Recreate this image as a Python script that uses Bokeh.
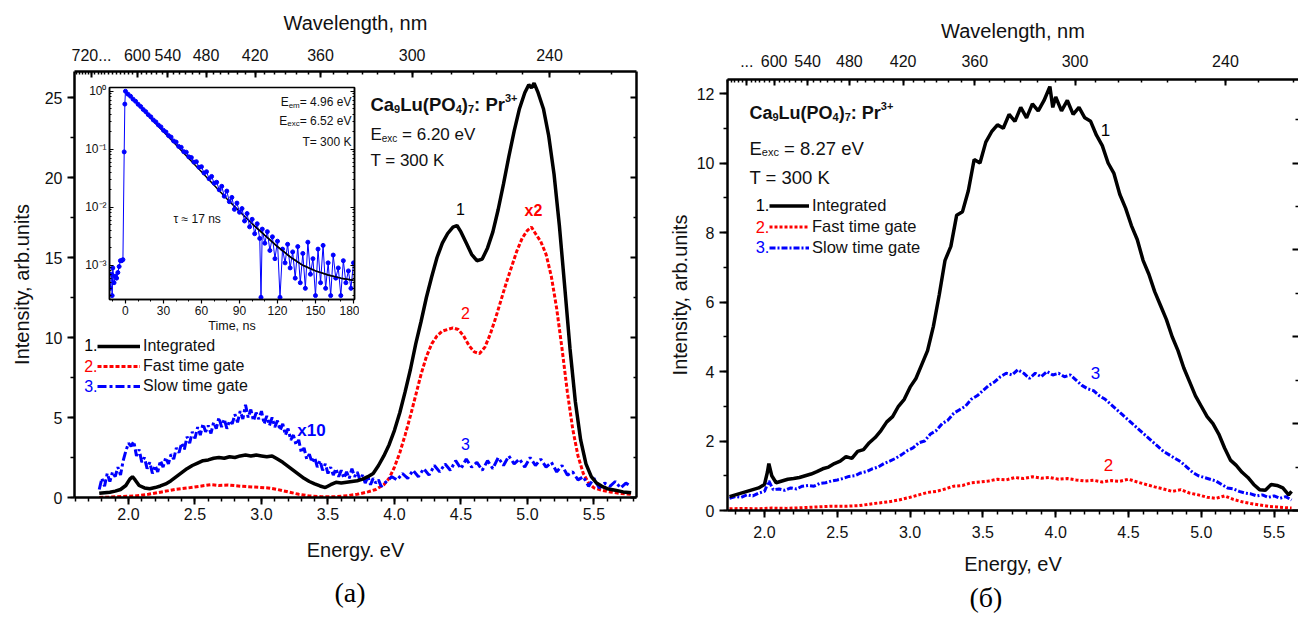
from bokeh.plotting import figure
from bokeh.models import (Range1d, LinearAxis, LogAxis, FixedTicker, SingleIntervalTicker,
                          NumeralTickFormatter, Legend, LegendItem, Label, Title, GridBox)
from bokeh.embed import file_html
from bokeh.resources import INLINE

FONT = "Liberation Sans"
TXT = "#111111"

# ---------------- data: panel (a) ----------------
A_BLACK = [(1.78, 0.26), (1.82, 0.3), (1.86, 0.33), (1.90, 0.4), (1.94, 0.5), (1.98, 0.75), (2.01, 1.15),
           (2.03, 1.3), (2.05, 1.1), (2.08, 0.75), (2.12, 0.6), (2.16, 0.55), (2.20, 0.62), (2.24, 0.72),
           (2.28, 0.85), (2.32, 1.05), (2.36, 1.3), (2.40, 1.55), (2.44, 1.8), (2.48, 2.0), (2.52, 2.15),
           (2.56, 2.3), (2.60, 2.35), (2.64, 2.45), (2.68, 2.5), (2.72, 2.45), (2.76, 2.55), (2.80, 2.5),
           (2.84, 2.6), (2.88, 2.65), (2.92, 2.6), (2.96, 2.65), (3.00, 2.6), (3.04, 2.55), (3.08, 2.6),
           (3.12, 2.4), (3.16, 2.2), (3.20, 1.95), (3.24, 1.7), (3.28, 1.45), (3.32, 1.2), (3.36, 1.0),
           (3.40, 0.85), (3.44, 0.72), (3.48, 0.62), (3.52, 0.8), (3.56, 0.95), (3.60, 0.9), (3.64, 0.95),
           (3.68, 1.0), (3.72, 1.05), (3.76, 1.15), (3.80, 1.3), (3.84, 1.5), (3.88, 2.0), (3.92, 2.6),
           (3.96, 3.3), (4.00, 4.2), (4.04, 5.3), (4.08, 6.6), (4.12, 8.0), (4.16, 9.6), (4.20, 11.0),
           (4.24, 12.5), (4.28, 13.8), (4.32, 15.0), (4.36, 15.9), (4.40, 16.5), (4.44, 16.9), (4.47, 17.0),
           (4.50, 16.6), (4.54, 15.9), (4.58, 15.2), (4.62, 14.8), (4.66, 14.9), (4.70, 15.6), (4.74, 16.6),
           (4.78, 18.0), (4.82, 19.6), (4.86, 21.3), (4.90, 22.9), (4.94, 24.3), (4.98, 25.3), (5.01, 25.8),
           (5.03, 25.6), (5.05, 25.9), (5.08, 25.3), (5.12, 24.3), (5.16, 22.6), (5.20, 20.2), (5.24, 17.0),
           (5.28, 13.2), (5.32, 9.3), (5.36, 6.0), (5.40, 3.6), (5.44, 2.1), (5.48, 1.3), (5.52, 0.9),
           (5.56, 0.7), (5.60, 0.55), (5.66, 0.45), (5.72, 0.35), (5.78, 0.3)]

A_RED = [(1.78, 0.0), (1.85, 0.02), (1.95, 0.06), (2.05, 0.1), (2.15, 0.2), (2.25, 0.35), (2.35, 0.5),
         (2.45, 0.6), (2.55, 0.72), (2.62, 0.8), (2.68, 0.75), (2.75, 0.78), (2.85, 0.7), (2.95, 0.65),
         (3.05, 0.6), (3.12, 0.5), (3.20, 0.35), (3.28, 0.2), (3.36, 0.1), (3.45, 0.05), (3.55, 0.05),
         (3.65, 0.12), (3.72, 0.2), (3.80, 0.35), (3.86, 0.5), (3.92, 0.8), (3.96, 1.2), (4.00, 1.9),
         (4.04, 2.8), (4.08, 3.9), (4.12, 5.1), (4.16, 6.4), (4.20, 7.7), (4.24, 8.8), (4.28, 9.6),
         (4.32, 10.1), (4.36, 10.4), (4.40, 10.5), (4.44, 10.6), (4.48, 10.5), (4.52, 10.1), (4.56, 9.5),
         (4.60, 9.1), (4.64, 9.0), (4.68, 9.4), (4.72, 10.2), (4.76, 11.2), (4.80, 12.3), (4.84, 13.4),
         (4.88, 14.4), (4.92, 15.4), (4.96, 16.2), (5.00, 16.7), (5.03, 16.9), (5.06, 16.5), (5.10, 16.0),
         (5.14, 15.2), (5.18, 13.8), (5.22, 11.8), (5.26, 9.3), (5.30, 6.6), (5.34, 4.3), (5.38, 2.6),
         (5.42, 1.5), (5.46, 0.9), (5.50, 0.6), (5.56, 0.45), (5.62, 0.35), (5.70, 0.25), (5.78, 0.2)]

A_BLUE = [(1.78, 0.5), (1.80, 1.2), (1.82, 0.7), (1.84, 1.5), (1.86, 1.0), (1.88, 1.6), (1.90, 1.3),
          (1.92, 1.9), (1.94, 1.4), (1.96, 2.3), (1.98, 2.9), (2.00, 3.4), (2.02, 3.2), (2.04, 3.5),
          (2.06, 2.6), (2.08, 3.0), (2.10, 2.2), (2.12, 2.5), (2.14, 1.8), (2.16, 2.2), (2.18, 1.5),
          (2.20, 2.0), (2.22, 1.6), (2.24, 2.3), (2.26, 1.9), (2.28, 2.5), (2.30, 2.1), (2.32, 2.7),
          (2.34, 2.4), (2.36, 3.1), (2.38, 2.8), (2.40, 3.4), (2.42, 3.0), (2.44, 3.8), (2.46, 3.4),
          (2.48, 4.1), (2.50, 3.7), (2.52, 4.4), (2.54, 3.9), (2.56, 4.6), (2.58, 4.1), (2.60, 4.5),
          (2.62, 4.0), (2.64, 4.7), (2.66, 4.3), (2.68, 5.0), (2.70, 4.4), (2.72, 4.9), (2.74, 4.3),
          (2.76, 4.8), (2.78, 4.6), (2.80, 5.2), (2.82, 4.7), (2.84, 5.4), (2.86, 4.9), (2.88, 5.8),
          (2.90, 5.0), (2.92, 5.5), (2.94, 4.8), (2.96, 5.3), (2.98, 4.9), (3.00, 5.4), (3.02, 4.6),
          (3.04, 5.1), (3.06, 4.5), (3.08, 5.0), (3.10, 4.4), (3.12, 4.8), (3.14, 4.2), (3.16, 4.6),
          (3.18, 3.9), (3.20, 4.3), (3.22, 3.6), (3.24, 3.9), (3.26, 3.3), (3.28, 3.6), (3.30, 2.8),
          (3.32, 3.1), (3.34, 2.4), (3.36, 2.7), (3.38, 2.2), (3.40, 2.5), (3.42, 1.9), (3.44, 2.3),
          (3.46, 1.7), (3.48, 2.1), (3.50, 1.5), (3.52, 1.9), (3.54, 1.4), (3.56, 1.8), (3.58, 1.3),
          (3.60, 1.7), (3.62, 1.2), (3.64, 1.6), (3.66, 1.2), (3.68, 1.8), (3.70, 1.3), (3.72, 1.6),
          (3.74, 1.1), (3.76, 1.4), (3.78, 0.9), (3.80, 1.3), (3.82, 0.8), (3.84, 1.2), (3.86, 0.9),
          (3.88, 1.1), (3.90, 0.7), (3.94, 1.0), (3.98, 1.3), (4.02, 1.1), (4.06, 1.5), (4.10, 1.2),
          (4.14, 1.7), (4.18, 1.3), (4.22, 1.8), (4.26, 1.4), (4.30, 2.0), (4.34, 1.6), (4.38, 2.1),
          (4.42, 1.7), (4.46, 2.3), (4.50, 1.8), (4.54, 2.4), (4.58, 1.9), (4.62, 2.2), (4.66, 1.7),
          (4.70, 2.3), (4.74, 1.8), (4.78, 2.5), (4.82, 2.0), (4.86, 2.6), (4.90, 2.1), (4.94, 2.4),
          (4.98, 1.9), (5.02, 2.5), (5.06, 2.0), (5.10, 2.4), (5.14, 1.9), (5.18, 2.2), (5.22, 1.6),
          (5.26, 2.0), (5.30, 1.4), (5.34, 1.6), (5.38, 1.1), (5.42, 1.3), (5.46, 0.7), (5.50, 1.2),
          (5.54, 0.6), (5.58, 0.9), (5.62, 0.7), (5.66, 1.0), (5.70, 0.6), (5.74, 0.9), (5.78, 0.7)]

# inset decay (time ns, normalised intensity)
DECAY_PTS = [(-12, 4.0e-4), (-11, 7.0e-4), (-10.5, 3.0e-4), (-10, 9.0e-4), (-9, 5.0e-4), (-8, 6.5e-4),
             (-7, 6.0e-4), (-6, 7.5e-4), (-5, 9.5e-4), (-4, 1.2e-3), (-3, 1.2e-3), (-2, 1.25e-3),
             (-1, 9.0e-2), (-0.5, 0.6), (0, 1.0), (2, 0.89), (4, 0.82), (6, 0.73), (8, 0.67), (10, 0.595),
             (12, 0.545), (14, 0.485), (16, 0.445), (18, 0.395), (20, 0.362), (22, 0.32), (24, 0.296),
             (26, 0.262), (28, 0.243), (30, 0.212), (32, 0.198), (34, 0.172), (36, 0.162), (38, 0.139),
             (40, 0.133), (42, 0.112), (44, 0.108), (46, 0.091), (48, 0.089), (50, 0.074), (52, 0.072),
             (54, 0.060), (56, 0.061), (58, 0.049), (60, 0.050), (62, 0.039), (64, 0.041), (66, 0.031),
             (68, 0.034), (70, 0.026), (72, 0.027), (74, 0.020), (76, 0.023), (78, 0.0155), (80, 0.019),
             (82, 0.0125), (84, 0.0148), (86, 0.0092), (88, 0.0118), (90, 0.0082), (92, 0.0095),
             (94, 0.0058), (96, 0.0078), (98, 0.0046), (100, 0.0062), (102, 0.0035), (104, 0.0052),
             (106, 0.0029), (107, 0.00028), (108, 0.0042), (110, 0.0024), (112, 0.0038), (114, 0.0018),
             (116, 0.0031), (118, 0.0013), (120, 0.0026), (122, 0.00028), (124, 0.0019), (126, 0.0011),
             (128, 0.0023), (130, 0.0009), (132, 0.0017), (134, 0.0006), (136, 0.0021), (138, 0.0005),
             (140, 0.0016), (142, 0.0004), (144, 0.0025), (146, 0.0007), (148, 0.0013), (150, 0.0003),
             (152, 0.0019), (154, 0.0005), (156, 0.0022), (158, 0.0004), (160, 0.0011), (162, 0.0003),
             (164, 0.0015), (166, 0.0006), (168, 0.0009), (170, 0.0003), (172, 0.0012), (174, 0.0005),
             (176, 0.0008), (178, 0.0004), (180, 0.0011)]
DECAY_FIT = [(0, 1.0), (10, 0.59), (20, 0.34), (30, 0.20), (40, 0.118), (50, 0.069), (60, 0.041),
             (70, 0.024), (80, 0.014), (90, 0.0085), (100, 0.0052), (110, 0.0033), (120, 0.0021),
             (130, 0.0014), (140, 0.00100), (150, 0.00080), (160, 0.00068), (170, 0.00060), (180, 0.00055)]

# ---------------- data: panel (б) ----------------
B_BLACK = [(1.76, 0.4), (1.80, 0.45), (1.84, 0.5), (1.88, 0.55), (1.92, 0.6), (1.96, 0.65), (2.00, 0.75),
           (2.02, 1.1), (2.03, 1.35), (2.05, 1.0), (2.08, 0.8), (2.12, 0.85), (2.16, 0.9), (2.20, 0.92),
           (2.24, 0.95), (2.28, 1.0), (2.32, 1.05), (2.36, 1.12), (2.40, 1.2), (2.44, 1.25), (2.48, 1.35),
           (2.52, 1.42), (2.56, 1.55), (2.60, 1.5), (2.64, 1.7), (2.68, 1.75), (2.72, 1.95), (2.76, 2.1),
           (2.80, 2.3), (2.84, 2.55), (2.88, 2.7), (2.92, 3.0), (2.96, 3.2), (3.00, 3.55), (3.04, 3.8),
           (3.08, 4.2), (3.12, 4.6), (3.16, 5.3), (3.20, 6.2), (3.24, 7.2), (3.28, 7.6), (3.32, 8.5),
           (3.36, 8.6), (3.40, 9.2), (3.44, 10.1), (3.48, 10.0), (3.52, 10.6), (3.56, 10.9), (3.60, 11.1),
           (3.64, 11.0), (3.68, 11.4), (3.72, 11.2), (3.76, 11.6), (3.80, 11.3), (3.84, 11.7), (3.88, 11.5),
           (3.92, 11.8), (3.96, 12.2), (3.98, 11.6), (4.00, 11.9), (4.04, 11.5), (4.08, 11.8), (4.12, 11.4),
           (4.16, 11.6), (4.20, 11.3), (4.24, 11.2), (4.28, 10.8), (4.32, 10.5), (4.36, 10.0), (4.40, 9.7),
           (4.44, 9.1), (4.48, 8.7), (4.52, 8.2), (4.56, 7.8), (4.60, 7.2), (4.64, 6.8), (4.68, 6.3),
           (4.72, 5.9), (4.76, 5.5), (4.80, 5.0), (4.84, 4.6), (4.88, 4.1), (4.92, 3.7), (4.96, 3.3),
           (5.00, 3.0), (5.04, 2.7), (5.08, 2.5), (5.12, 2.2), (5.16, 1.8), (5.20, 1.45), (5.24, 1.3),
           (5.28, 1.1), (5.32, 0.95), (5.36, 0.75), (5.40, 0.6), (5.44, 0.58), (5.48, 0.75), (5.52, 0.72),
           (5.56, 0.65), (5.60, 0.45), (5.62, 0.55)]

B_RED = [(1.76, 0.05), (1.85, 0.06), (1.95, 0.05), (2.05, 0.07), (2.15, 0.06), (2.25, 0.08), (2.35, 0.1),
         (2.45, 0.12), (2.55, 0.12), (2.65, 0.14), (2.75, 0.2), (2.85, 0.25), (2.92, 0.3), (3.00, 0.38),
         (3.06, 0.45), (3.12, 0.52), (3.18, 0.55), (3.24, 0.62), (3.30, 0.7), (3.36, 0.72), (3.42, 0.8),
         (3.48, 0.82), (3.54, 0.85), (3.60, 0.9), (3.66, 0.88), (3.72, 0.95), (3.78, 0.92), (3.84, 0.97),
         (3.90, 0.93), (3.96, 0.95), (4.02, 0.9), (4.08, 0.92), (4.14, 0.88), (4.20, 0.85), (4.26, 0.87),
         (4.32, 0.82), (4.38, 0.86), (4.44, 0.84), (4.50, 0.9), (4.56, 0.82), (4.62, 0.75), (4.68, 0.68),
         (4.74, 0.62), (4.80, 0.55), (4.86, 0.6), (4.92, 0.5), (4.98, 0.45), (5.04, 0.38), (5.10, 0.35),
         (5.16, 0.42), (5.22, 0.32), (5.28, 0.25), (5.34, 0.2), (5.40, 0.16), (5.46, 0.12), (5.52, 0.1),
         (5.58, 0.08), (5.62, 0.07)]

B_BLUE = [(1.76, 0.35), (1.80, 0.4), (1.84, 0.38), (1.88, 0.45), (1.92, 0.42), (1.96, 0.5), (2.00, 0.55),
          (2.03, 0.85), (2.06, 0.6), (2.10, 0.62), (2.14, 0.58), (2.18, 0.65), (2.22, 0.62), (2.26, 0.7),
          (2.30, 0.72), (2.34, 0.7), (2.38, 0.78), (2.42, 0.8), (2.46, 0.85), (2.50, 0.88), (2.54, 0.92),
          (2.58, 0.98), (2.62, 1.0), (2.66, 1.08), (2.70, 1.12), (2.74, 1.2), (2.78, 1.25), (2.82, 1.35),
          (2.86, 1.42), (2.90, 1.5), (2.94, 1.6), (2.98, 1.72), (3.02, 1.8), (3.06, 1.95), (3.10, 2.0),
          (3.14, 2.2), (3.18, 2.3), (3.22, 2.5), (3.26, 2.6), (3.30, 2.8), (3.34, 2.9), (3.38, 3.0),
          (3.42, 3.2), (3.46, 3.3), (3.50, 3.45), (3.54, 3.6), (3.58, 3.7), (3.62, 3.85), (3.66, 3.95),
          (3.70, 3.9), (3.74, 4.05), (3.78, 3.95), (3.82, 3.8), (3.86, 3.95), (3.90, 3.85), (3.94, 4.0),
          (3.98, 3.9), (4.02, 3.95), (4.06, 3.85), (4.10, 3.9), (4.14, 3.75), (4.18, 3.6), (4.22, 3.5),
          (4.26, 3.45), (4.30, 3.3), (4.34, 3.2), (4.38, 3.05), (4.42, 2.9), (4.46, 2.75), (4.50, 2.6),
          (4.54, 2.45), (4.58, 2.3), (4.62, 2.15), (4.66, 2.0), (4.70, 1.85), (4.74, 1.7), (4.78, 1.6),
          (4.82, 1.5), (4.86, 1.4), (4.90, 1.25), (4.94, 1.1), (4.98, 1.0), (5.02, 0.95), (5.06, 0.9),
          (5.10, 0.85), (5.14, 0.75), (5.18, 0.65), (5.22, 0.62), (5.26, 0.55), (5.30, 0.5), (5.34, 0.48),
          (5.38, 0.42), (5.42, 0.45), (5.46, 0.38), (5.50, 0.42), (5.54, 0.35), (5.58, 0.4), (5.62, 0.3)]

# wavelength axis labels (nm)
TOP_A_NM = [720, 600, 540, 480, 420, 360, 300, 240]
TOP_A_LABELS = ["720...", "600", "540", "480", "420", "360", "300", "240"]
TOP_B_NM = [660, 600, 540, 480, 420, 360, 300, 240]
TOP_B_LABELS = ["...", "600", "540", "480", "420", "360", "300", "240"]
LEGEND_NAMES = ["Integrated", "Fast time gate", "Slow time gate"]
INSET_YTICKS = [1, 0.1, 0.01, 0.001]
INSET_YLABELS = ["10\u2070", "10\u207b\u00b9", "10\u207b\u00b2", "10\u207b\u00b3"]

HC = 1239.84


def xs(pts):
    return [p[0] for p in pts]


def ys(pts):
    return [p[1] for p in pts]


# Arial-like advance widths (per 1000 em)
_R = {' ': 278, '(': 333, ')': 333, '+': 584, '.': 278, ':': 278, '=': 584, 'C': 722, 'E': 667, 'K': 667,
      'L': 556, 'O': 778, 'P': 667, 'T': 611, 'V': 667, 'a': 556, 'c': 500, 'e': 556, 'm': 833, 'n': 556,
      'r': 333, 's': 500, 'u': 556, 'x': 500, '\u03c4': 520, '\u2248': 584}
_B = dict(_R)
_B.update({':': 333, 'L': 611, 'u': 611, 'r': 389, 'x': 556})


def tw(s, size, bold):
    tab = _B if bold else _R
    return sum(tab.get(ch, 556) for ch in s) * size / 1000.0


def rich(fig, x, y, pieces, align="left", color=TXT):
    total = sum(tw(t, sz, b) for t, sz, dy, b in pieces)
    off = 0.0 if align == "left" else -total
    for t, sz, dy, b in pieces:
        lead = len(t) - len(t.lstrip(" "))
        off += tw(" " * lead, sz, b)
        body = t.lstrip(" ")
        fig.add_layout(Label(x=x, y=y, x_offset=off, y_offset=dy, text=body, text_font=FONT,
                             text_font_size=f"{sz}px", text_font_style="bold" if b else "normal",
                             text_color=color, text_align="left", text_baseline="alphabetic"))
        off += tw(body, sz, b)


def lab(fig, x, y, text, color, size=17, bold=False, align="center"):
    fig.add_layout(Label(x=x, y=y, text=text, text_color=color, text_font=FONT,
                         text_font_size=f"{size}px", text_font_style="bold" if bold else "normal",
                         text_align=align, text_baseline="middle"))


def style_axis(ax, tick_in=0, tick_out=7, minor_in=0, minor_out=4, lw=2.5, size=16, lsize=20,
               standoff=6, lstandoff=10):
    ax.axis_line_width = lw
    ax.axis_line_color = "black"
    ax.major_tick_line_width = 2
    ax.minor_tick_line_width = 1.5
    ax.major_tick_line_color = "black"
    ax.minor_tick_line_color = "black"
    ax.major_tick_in = tick_in
    ax.major_tick_out = tick_out
    ax.minor_tick_in = minor_in
    ax.minor_tick_out = minor_out
    ax.major_label_text_font = FONT
    ax.major_label_text_font_size = f"{size}px"
    ax.major_label_text_color = TXT
    ax.major_label_standoff = standoff
    ax.axis_label_text_font = FONT
    ax.axis_label_text_font_size = f"{lsize}px"
    ax.axis_label_text_font_style = "normal"
    ax.axis_label_text_color = TXT
    ax.axis_label_standoff = lstandoff


def tick_only_axes(fig, majors, minors, big, small, lw, line=True, log=False):
    """Unlabelled inward-tick axis on the right: majors and minors as two tick-only axes."""
    cls = LogAxis if log else LinearAxis
    a1 = cls(ticker=FixedTicker(ticks=[], minor_ticks=majors))
    a1.minor_tick_in = big
    a1.minor_tick_out = 0
    a1.minor_tick_line_width = 2 if lw > 2 else 1.2
    a1.axis_line_width = lw
    a1.axis_line_color = "black" if line else None
    a1.major_label_standoff = 0
    fig.add_layout(a1, "right")
    a2 = cls(ticker=FixedTicker(ticks=[], minor_ticks=minors))
    a2.minor_tick_in = small
    a2.minor_tick_out = 0
    a2.minor_tick_line_width = 1.5 if lw > 2 else 1
    a2.axis_line_color = None
    a2.major_label_standoff = 0
    fig.add_layout(a2, "right")


def no_align(fig):
    if "frame_align" in fig.properties():
        fig.frame_align = False


def make_panel(width, height, xr, yr, mb, ytick, yminor, rmaj, rmin, top_nm, top_labels, top_standoff,
               top_lstandoff, ylab_standoff, ytick_out, xstandoff, xlab_standoff, rline):
    p = figure(width=width, height=height, x_range=Range1d(*xr), y_range=Range1d(*yr),
               x_axis_location=None, y_axis_location=None, output_backend="svg", toolbar_location=None,
               min_border_left=mb[0], min_border_right=mb[1], min_border_top=mb[2], min_border_bottom=mb[3])
    no_align(p)
    p.grid.visible = False
    p.outline_line_color = None
    p.background_fill_color = "white"
    p.border_fill_color = "white"

    bx = LinearAxis(ticker=SingleIntervalTicker(interval=0.5, num_minor_ticks=5),
                    formatter=NumeralTickFormatter(format="0.0"))
    style_axis(bx, tick_out=7, minor_out=4, standoff=xstandoff, lstandoff=xlab_standoff)
    p.add_layout(bx, "below")

    ly = LinearAxis(ticker=SingleIntervalTicker(interval=ytick, num_minor_ticks=yminor))
    style_axis(ly, tick_out=ytick_out, minor_out=4, standoff=5, lstandoff=ylab_standoff)
    ly.axis_label = "Intensity, arb.units"
    p.add_layout(ly, "left")

    tick_only_axes(p, rmaj, rmin, 6, 3, 2.5, line=rline)

    lo, hi = xr
    majors = [round(HC / nm, 5) for nm in top_nm]
    minors = [round(HC / nm, 5) for nm in range(800, 200, -10) if lo <= HC / nm <= hi]
    tx = LinearAxis(ticker=FixedTicker(ticks=majors, minor_ticks=minors),
                    major_label_overrides={m: t for m, t in zip(majors, top_labels)})
    style_axis(tx, tick_in=6, tick_out=0, minor_in=3, minor_out=0, standoff=top_standoff,
               lstandoff=top_lstandoff)
    tx.axis_label = "Wavelength, nm"
    p.add_layout(tx, "above")
    return p, bx


def caption(fig, text, offset, standoff):
    fig.add_layout(Title(text=text, align="left", offset=offset, standoff=standoff,
                         text_font="Liberation Serif", text_font_size="28px", text_font_style="normal",
                         text_color="black"), "below")


# ================= panel (a) =================
pa, bxa = make_panel(660, 619, (1.594, 5.82), (0, 26.625), (74, 24, 71, 122), 5, 2,
                     [0, 5, 10, 15, 20, 25], [2.5, 7.5, 12.5, 17.5, 22.5],
                     TOP_A_NM, TOP_A_LABELS, 11, 12, 9, 7, 3, 16, True)
bxa.axis_label = "Energy. eV"
caption(pa, "(a)", 260, 23)

ra2 = pa.line(xs(A_RED), ys(A_RED), line_color="#ff0000", line_width=3, line_dash="4 2")
ra3 = pa.line(xs(A_BLUE), ys(A_BLUE), line_color="#0000ff", line_width=3, line_dash="9 3 3 3")
ra1 = pa.line(xs(A_BLACK), ys(A_BLACK), line_color="black", line_width=3.5)

lega = Legend(items=[LegendItem(label=LEGEND_NAMES[0], renderers=[ra1]),
                     LegendItem(label=LEGEND_NAMES[1], renderers=[ra2]),
                     LegendItem(label=LEGEND_NAMES[2], renderers=[ra3])],
              location=(23, 101), glyph_width=43, glyph_height=20, label_height=20, label_standoff=3,
              spacing=0, padding=0, margin=0, border_line_color=None, background_fill_alpha=0,
              label_text_font=FONT, label_text_font_size="16px", label_text_color=TXT)
pa.add_layout(lega)
for i, (yv, c) in enumerate([(9.56, "black"), (8.25, "#ff0000"), (6.97, "#0000ff")]):
    lab(pa, 1.767, yv, f"{i + 1}.", c, size=16, align="right")

rich(pa, 3.8195, 24.54, [("Ca", 18.5, 0, True), ("9", 11, -4, True), ("Lu(PO", 18.5, 0, True),
                         ("4", 11, -4, True), (")", 18.5, 0, True), ("7", 11, -4, True), (": Pr", 18.5, 0, True),
                         ("3+", 11, 7, True)])
rich(pa, 3.8195, 22.69, [("E", 17, 0, False), ("exc", 10, -4, False), (" = 6.20 eV", 17, 0, False)])
rich(pa, 3.8195, 21.06, [("T = 300 K", 17, 0, False)])

lab(pa, 4.496, 18.06, "1", "black", 16)
lab(pa, 5.045, 17.94, "x2", "#ff0000", 16, bold=True)
lab(pa, 4.534, 11.56, "2", "#ff0000", 16)
lab(pa, 4.534, 3.375, "3", "#0000ff", 16)
lab(pa, 3.376, 4.19, "x10", "#0000ff", 17, bold=True)

# ================= panel (б) =================
pb, bxb = make_panel(638, 619, (1.746, 5.6676), (0, 12.403), (67, 0, 79, 109), 2, 2,
                     [0, 2.5, 5, 7.5, 10, 12.5], [1.25, 3.75, 6.25, 8.75, 11.25],
                     TOP_B_NM, TOP_B_LABELS, 13, 10, 3, 8, 8, 12, False)
bxb.axis_label = "Energy, eV"
caption(pb, "(\u0431)", 242, 4)

rb2 = pb.line(xs(B_RED), ys(B_RED), line_color="#ff0000", line_width=3, line_dash="3 2")
rb3 = pb.line(xs(B_BLUE), ys(B_BLUE), line_color="#0000ff", line_width=3, line_dash="6 2 2 2")
rb1 = pb.line(xs(B_BLACK), ys(B_BLACK), line_color="black", line_width=3.5)

legb = Legend(items=[LegendItem(label=LEGEND_NAMES[0], renderers=[rb1]),
                     LegendItem(label=LEGEND_NAMES[1], renderers=[rb2]),
                     LegendItem(label=LEGEND_NAMES[2], renderers=[rb3])],
              location=(42, 252), glyph_width=40, glyph_height=21, label_height=21, label_standoff=3,
              spacing=0, padding=0, margin=0, border_line_color=None, background_fill_alpha=0,
              label_text_font=FONT, label_text_font_size="16.5px", label_text_color=TXT)
pb.add_layout(legb)
for i, (yv, c) in enumerate([(8.78, "black"), (8.17, "#ff0000"), (7.57, "#0000ff")]):
    lab(pb, 2.034, yv, f"{i + 1}.", c, size=16.5, align="right")

rich(pb, 1.897, 11.45, [("Ca", 18, 0, True), ("9", 11, -4, True), ("Lu(PO", 18, 0, True), ("4", 11, -4, True),
                        (")", 18, 0, True), ("7", 11, -4, True), (": Pr", 18, 0, True), ("3+", 11, 7, True)])
rich(pb, 1.897, 10.42, [("E", 18.5, 0, False), ("exc", 11, -4, False), (" = 8.27 eV", 18.5, 0, False)])
rich(pb, 1.897, 9.58, [("T = 300 K", 18.5, 0, False)])

lab(pb, 4.342, 10.94, "1", "black", 17)
lab(pb, 4.273, 3.97, "3", "#0000ff", 17)
lab(pb, 4.363, 1.295, "2", "#ff0000", 17)

# ================= inset =================
pi = figure(width=278, height=257, x_range=Range1d(-12.6, 180.8), y_range=Range1d(2.57e-4, 1.16),
            y_axis_type="log", x_axis_location=None, y_axis_location=None, output_backend="svg",
            toolbar_location=None, min_border_left=28, min_border_right=5, min_border_top=5,
            min_border_bottom=40)
no_align(pi)
pi.margin = (82, 0, 0, 81)
pi.grid.visible = False
pi.background_fill_color = "white"
pi.border_fill_color = None
pi.outline_line_color = "black"
pi.outline_line_width = 1.5

ix = LinearAxis(ticker=SingleIntervalTicker(interval=30, num_minor_ticks=3))
style_axis(ix, tick_out=4, minor_out=2, lw=1.5, size=12, lsize=12.5, standoff=2, lstandoff=1)
ix.major_tick_line_width = 1.2
ix.minor_tick_line_width = 1
ix.axis_label = "Time, ns"
pi.add_layout(ix, "below")

iy_minor = [k * 10.0 ** e for e in (-4, -3, -2, -1) for k in range(2, 10)]
iy = LogAxis(ticker=FixedTicker(ticks=INSET_YTICKS, minor_ticks=iy_minor),
             major_label_overrides={t: s for t, s in zip(INSET_YTICKS, INSET_YLABELS)})
style_axis(iy, tick_in=4, tick_out=0, minor_in=2, minor_out=0, lw=1.5, size=12, standoff=3)
iy.major_tick_line_width = 1.2
iy.minor_tick_line_width = 1
pi.add_layout(iy, "left")
tick_only_axes(pi, INSET_YTICKS, iy_minor, 4, 2, 1.5, line=True, log=True)

pi.line(xs(DECAY_FIT), ys(DECAY_FIT), line_color="black", line_width=1.5)
pi.line(xs(DECAY_PTS), ys(DECAY_PTS), line_color="#0000ff", line_width=1)
pi.scatter(xs(DECAY_PTS), ys(DECAY_PTS), size=4, color="#0000ff")
pi.line(xs(DECAY_FIT)[10:], ys(DECAY_FIT)[10:], line_color="black", line_width=1.5)

rich(pi, 178.4, 0.646, [("E", 12, 0, False), ("em", 8, -3, False), ("= 4.96 eV", 12, 0, False)], align="right")
rich(pi, 178.4, 0.313, [("E", 12, 0, False), ("exc", 8, -3, False), ("= 6.52 eV", 12, 0, False)], align="right")
rich(pi, 178.4, 0.132, [("T= 300 K", 12, 0, False)], align="right")
rich(pi, 37.9, 0.00638, [("\u03c4 \u2248 17 ns", 12, 0, False)])

layout = GridBox(children=[(pa, 0, 0), (pi, 0, 0), (pb, 0, 1)])
open("out.html", "w").write(file_html(layout, INLINE))
